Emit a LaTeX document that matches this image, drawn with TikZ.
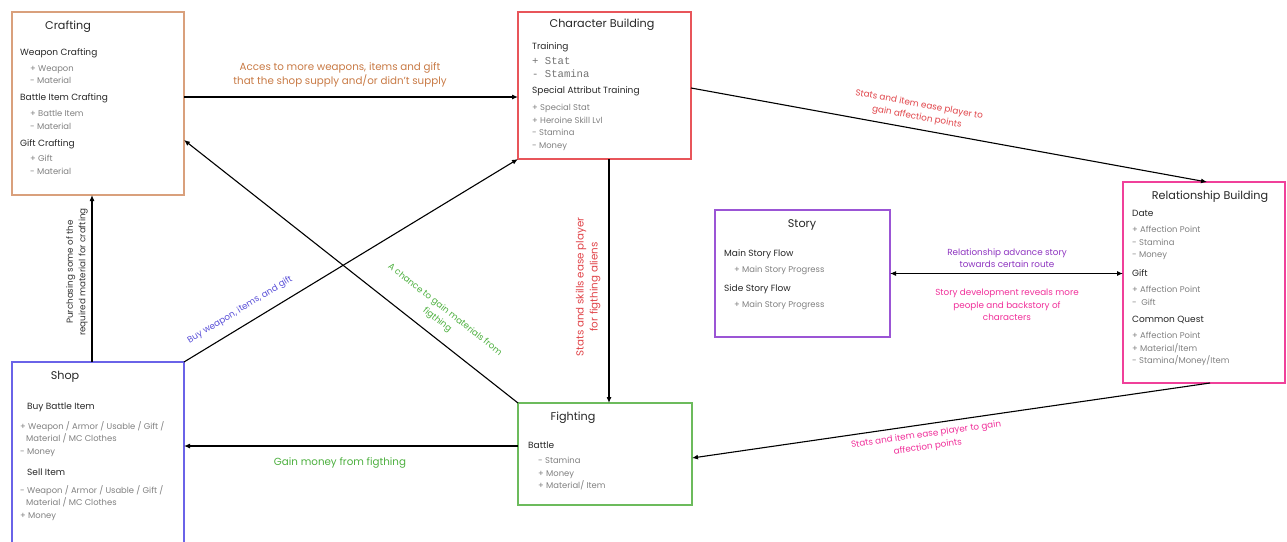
\documentclass[tikz,border=0pt]{standalone}
\usepackage{fontspec}
\setmainfont{Poppins}
\newfontfamily\monofont{Liberation Mono}
\usetikzlibrary{arrows.meta}

% frame colours
\definecolor{craftc}{HTML}{D9A07C}
\definecolor{charc}{HTML}{E8555A}
\definecolor{relc}{HTML}{F0409A}
\definecolor{storyc}{HTML}{9B55D5}
\definecolor{shopc}{HTML}{6A63E8}
\definecolor{fightc}{HTML}{6CBB5C}
% connector label colours
\definecolor{lbrown}{HTML}{C87A45}
\definecolor{lred}{HTML}{E0454A}
\definecolor{lgreen}{HTML}{4CAF3E}
\definecolor{lblue}{HTML}{5A50D8}
\definecolor{lpurple}{HTML}{8E35C0}
\definecolor{lpink}{HTML}{F0309A}

\tikzset{
  box/.style={draw=#1, line width=1.2pt, anchor=north west, inner sep=0pt, outer sep=0pt},
  title/.style={font=\fontsize{11.2}{13}\selectfont, text=black!85, inner sep=0pt},
  head/.style={font=\fontsize{9}{11}\selectfont, text=black!85, anchor=west, inner sep=0pt},
  item/.style={font=\fontsize{8.4}{12.6}\selectfont, text=black!50, anchor=north west, align=left, inner sep=0pt},
  monoitem/.style={font=\monofont\fontsize{10.6}{13}\selectfont, text=black!55, anchor=north west, align=left, inner sep=0pt},
  link/.style={line width=1.1pt, -{Latex[length=6pt,width=5pt]}},
  lbl/.style={font=\fontsize{10.3}{14}\selectfont, align=center, inner sep=0pt},
  slbl/.style={font=\fontsize{8.8}{12.5}\selectfont, align=center, inner sep=0pt},
}

\begin{document}
\begin{tikzpicture}[x=1pt, y=-1pt]
\useasboundingbox (0,0) rectangle (1287,541);
\clip (0,0) rectangle (1287,541);

% ---- boxes ----
\node[box=craftc, minimum width=172pt, minimum height=183pt] (crafting) at (12,12) {};
\node[box=charc,  minimum width=173pt, minimum height=147pt] (charb) at (518,12) {};
\node[box=relc,   minimum width=162pt, minimum height=201pt] (rel) at (1123,182) {};
\node[box=storyc, minimum width=175pt, minimum height=127pt] (story) at (715,210) {};
\node[box=shopc,  minimum width=172pt, minimum height=190pt] (shop) at (12,362) {};
\node[box=fightc, minimum width=174pt, minimum height=102pt] (fight) at (518,403) {};

% ---- Crafting ----
\node[title] (crT) at (68,27) {Crafting};
\node[head] (crH1) at (20,53) {Weapon Crafting};
\node[item] (crI1) at (30,65) {+ Weapon\\- Material};
\node[head] (crH2) at (20,98) {Battle Item Crafting};
\node[item] (crI2) at (30,110) {+ Battle Item\\- Material};
\node[head] (crH3) at (20,144) {Gift Crafting};
\node[item] (crI3) at (30,155) {+ Gift\\- Material};

% ---- Character Building ----
\node[title] (chT) at (602,25) {Character Building};
\node[head] (chH1) at (532,47) {Training};
\node[monoitem] (chI1) at (532,57) {+ Stat\\- Stamina};
\node[head] (chH2) at (532,91) {Special Attribut Training};
\node[item] (chI2) at (532,104) {+ Special Stat\\+ Heroine Skill Lvl\\- Stamina\\- Money};

% ---- Relationship Building ----
\node[title] (reT) at (1210,197) {Relationship Building};
\node[head] (reH1) at (1132,213) {Date};
\node[item] (reI1) at (1132,226) {+ Affection Point\\- Stamina\\- Money};
\node[head] (reH2) at (1132,273) {Gift};
\node[item] (reI2) at (1132,286) {+ Affection Point\\-\ \ Gift};
\node[head] (reH3) at (1132,320) {Common Quest};
\node[item] (reI3) at (1132,332) {+ Affection Point\\+ Material/Item\\- Stamina/Money/Item};

% ---- Story ----
\node[title] (stT) at (802,225) {Story};
\node[head] (stH1) at (724,254) {Main Story Flow};
\node[item] (stI1) at (734,266) {+ Main Story Progress};
\node[head] (stH2) at (724,289) {Side Story Flow};
\node[item] (stI2) at (734,301) {+ Main Story Progress};

% ---- Shop ----
\node[title] (shT) at (65,377) {Shop};
\node[head] (shH1) at (27,407) {Buy Battle Item};
\node[item] (shI1) at (20,421) {+ Weapon / Armor / Usable / Gift /\\\hspace*{6pt}Material / MC Clothes\\- Money};
\node[head] (shH2) at (27,472) {Sell Item};
\node[item] (shI2) at (20,485) {- Weapon / Armor / Usable / Gift /\\\hspace*{6pt}Material / MC Clothes\\+ Money};

% ---- Fighting ----
\node[title] (fiT) at (573,418) {Fighting};
\node[head] (fiH1) at (528,445) {Battle};
\node[item] (fiI1) at (538,457) {- Stamina\\+ Money\\+ Material/ Item};

% ---- connectors ----
\draw[link] ([yshift=6.5pt]crafting.east) -- ([yshift=-11.5pt]charb.west);
\draw[link] ([xshift=-6pt]shop.north) -- ([xshift=-6pt]crafting.south);
\draw[link] (shop.north east) -- (charb.south west);
\draw[link] (fight.north west) -- ([yshift=-36.5pt]crafting.east);
\draw[link] ([xshift=4.5pt]charb.south) -- ([xshift=4pt]fight.north);
\draw[link] ([yshift=8pt]fight.west) -- ([yshift=11pt]shop.east);
\draw[link] ([yshift=-2.5pt]charb.east) -- ([xshift=3pt]rel.north);
\draw[line width=1.1pt, {Latex[length=6pt,width=5pt]}-{Latex[length=6pt,width=5pt]}] (story.east) -- (rel.west |- story.east);
\draw[link] ([xshift=6pt]rel.south) -- ([yshift=-4pt]fight.east);

% ---- connector labels ----
\node[lbl, text=lbrown] (l1) at (340,75) {Acces to more weapons, items and gift\\that the shop supply and/or didn't supply};
\node[slbl, text=black!80, rotate=90] (l2) at (77,272) {Purchasing some of the\\required material for crafting};
\node[slbl, text=lblue, rotate=31.4] (l3) at (240,310) {Buy weapon, items, and gift};
\node[slbl, text=lgreen, rotate=-38.3] (l4) at (441,315) {A chance to gain materials from\\figthing};
\node[lbl, text=lred, rotate=90] (l5) at (588,287) {Stats and skills ease player\\for figthing aliens};
\node[lbl, text=lgreen] (l6) at (340,463) {Gain money from figthing};
\node[slbl, text=lred, rotate=-10.4] (l7) at (918,111) {Stats and item ease player to\\gain affection points};
\node[slbl, text=lpurple] (l8a) at (1007,258) {Relationship advance story\\towards certain route};
\node[slbl, text=lpink] (l8b) at (1007,305) {Story development reveals more\\people and backstory of\\characters};
\node[slbl, text=lpink, rotate=8.2] (l9) at (927,441) {Stats and item ease player to gain\\affection points};
\end{tikzpicture}
\end{document}
